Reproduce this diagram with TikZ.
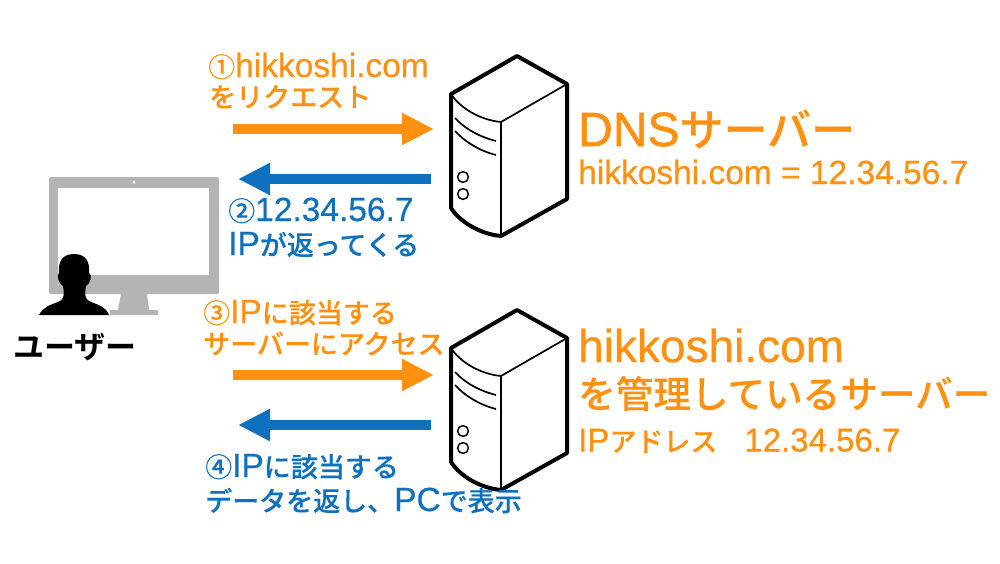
\documentclass[tikz,border=0pt]{standalone}
\usepackage{fontspec}
\usetikzlibrary{arrows.meta}
\setmainfont[FakeBold=0.5]{Liberation Sans}
\newfontfamily\jpfont[FakeBold=0.2]{Noto Sans CJK JP Medium}
\newfontfamily\jpbold{Noto Sans CJK JP Bold}
\newfontfamily\dnsfont[FakeBold=1.2]{Liberation Sans}
\newcommand{\jp}[1]{{\jpfont #1}}
\newcommand{\en}[1]{{\fontsize{33.5}{33.5}\selectfont #1}}
\definecolor{orangeline}{HTML}{FF9010}
\definecolor{blueline}{HTML}{0F70BE}
\definecolor{screengray}{HTML}{B4B4B4}
\tikzset{
    label/.style={anchor=base west,inner sep=0pt,font=\fontsize{27}{27}\selectfont},
    orangelabel/.style={label,text=orangeline},
    bluelabel/.style={label,text=blueline},
    bigarrow/.style={line width=10pt,-{Triangle[length=32pt,width=30pt]}},
}
\begin{document}
\begin{tikzpicture}[x=1pt,y=-1pt]
    \useasboundingbox (0,0) rectangle (1000,563);

    % Monitor:
    \fill [screengray,rounded corners=2pt] (49,177) rectangle (219,294);
    \fill [screengray] (121,294) -- (147,294) -- (149,310) -- (158,310) -- (158,315) -- (110,315) -- (110,310) -- (118,310) -- cycle;
    \fill [white] (58,188) rectangle (209,275);
    \fill [white] (134,182.3) circle (1.6);

    % User silhouette:
    \fill [black] (39,315) .. controls (43,307) and (50,305) .. (58,302)
        .. controls (63,300) and (65,297) .. (63,286)
        .. controls (59,284) and (56,275) .. (59,273)
        .. controls (58,262) and (62,254) .. (74,254)
        .. controls (86,254) and (90,262) .. (89,273)
        .. controls (93,275) and (90,284) .. (86,286)
        .. controls (84,297) and (86,300) .. (91,302)
        .. controls (99,305) and (106,307) .. (109,315) -- cycle;

    % Servers:
    \foreach \dy in {0,254}{%
    \begin{scope}[yshift=-\dy pt,line join=round]
        \draw [line width=4pt] (451,94) -- (517,56) -- (567,84) -- (567,199) -- (501,236) .. controls (480,234) and (460,222) .. (451,208) -- cycle;
        \draw [line width=1.7pt] (567,84) -- (501,122) -- (501,236);
        \draw [line width=1.7pt] (451,94) .. controls (460,108) and (480,120) .. (501,122);
        \draw [line width=1.7pt] (455,118) .. controls (465,129) and (480,137) .. (496,141);
        \draw [line width=1.7pt] (455,131) .. controls (465,142) and (480,151) .. (496,155);
        \draw [line width=1.5pt] (463,177) circle (5.4);
        \draw [line width=1.5pt] (463,194) circle (5.4);
    \end{scope}
    }

    % Arrows:
    \coordinate (req1a) at (233,129);
    \coordinate (req1b) at (434,129);
    \coordinate (res1a) at (431,179);
    \coordinate (res1b) at (238,179);
    \coordinate (req2a) at (233,375);
    \coordinate (req2b) at (434,375);
    \coordinate (res2a) at (431,425);
    \coordinate (res2b) at (238,425);
    \draw [bigarrow,orangeline] (req1a) -- (req1b);
    \draw [bigarrow,blueline] (res1a) -- (res1b);
    \draw [bigarrow,orangeline] (req2a) -- (req2b);
    \draw [bigarrow,blueline] (res2a) -- (res2b);

    % Labels:
    \node [orangelabel] (step1a) at (208,77) {\jp{①}\en{hikkoshi.com}};
    \node [orangelabel] (step1b) at (209,107) {\jp{をリクエスト}};
    \node [bluelabel] (step2a) at (228,221) {\jp{②}\en{12.34.56.7}};
    \node [bluelabel] (step2b) at (228,255) {\en{IP}\jp{が返ってくる}};
    \node [orangelabel] (step3a) at (203,323) {\jp{③}\en{IP}\jp{に該当する}};
    \node [orangelabel] (step3b) at (203,354) {\jp{サーバーにアクセス}};
    \node [bluelabel] (step4a) at (205,477) {\jp{④}\en{IP}\jp{に該当する}};
    \node [bluelabel] (step4b) at (205,511) {\jp{データを返し、}\en{PC}\jp{で表示}};

    \node [label,text=black,font=\fontsize{31}{31}\selectfont] (user) at (13,358) {\jpbold ユーザー};

    \node [orangelabel,font=\fontsize{44}{44}\selectfont] (dnsname) at (578,146) {{\dnsfont\fontsize{48}{48}\selectfont DNS}\jp{サーバー}};
    \node [orangelabel] (dnsip) at (578,184) {\en{hikkoshi.com = 12.34.56.7}};
    \node [orangelabel,font=\fontsize{46}{46}\selectfont] (webname) at (578,362) {hikkoshi.com};
    \node [orangelabel,font=\fontsize{37.6}{37.6}\selectfont] (webrole) at (578,408) {\jp{を管理しているサーバー}};
    \node [orangelabel] (webip) at (578,451.5) {{\fontsize{33}{33}\selectfont IP}\jp{アドレス　}{\fontsize{33}{33}\selectfont 12.34.56.7}};
\end{tikzpicture}
\end{document}
